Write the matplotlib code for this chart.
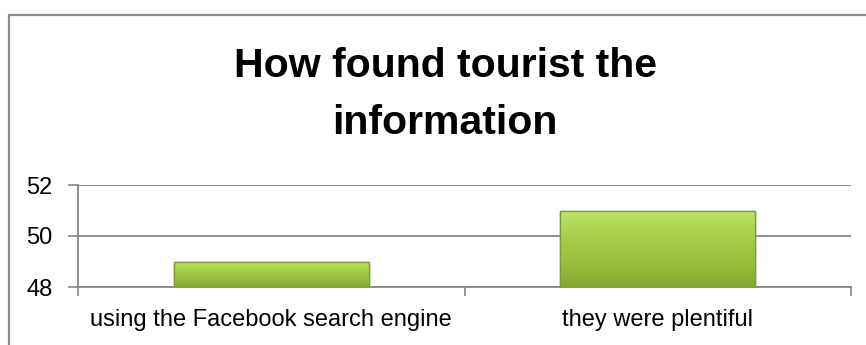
import numpy as np
import matplotlib
matplotlib.use("Agg")
import matplotlib.pyplot as plt
from matplotlib.patches import Rectangle
from matplotlib.colors import LinearSegmentedColormap

# ---- datos ----
categorias = ["using the Facebook search engine", "they were plentiful"]
valores = [49, 51]
yticks = [48, 50, 52]
titulo = ["How found tourist the", "information"]

GRIS = "#868686"
VERDE_EDGE = "#7e9c35"
grad = LinearSegmentedColormap.from_list("verde", ["#c0e46a", "#a6d048", "#98c23c", "#84a932"])

plt.rcParams["font.family"] = ["Liberation Sans", "DejaVu Sans"]

fig = plt.figure(figsize=(8.66, 3.45), dpi=100)
W, H = 866, 345

# borde del área del gráfico (solo se ven el lado izquierdo y el superior)
fig.patches.append(Rectangle((8.5 / W, -0.1), 2, 1.1 - 14.5 / H, transform=fig.transFigure,
                             fill=False, edgecolor="#8c8c8c", lw=1.6))

ax = fig.add_axes([78 / W, (H - 287) / H, (851 - 78) / W, (287 - 185) / H])

x = np.arange(len(categorias))
bars = ax.bar(x, valores, width=0.505, bottom=0, color="#a4cb4c",
              edgecolor=VERDE_EDGE, linewidth=1.0, zorder=3)

# degradado dentro de cada barra
g = np.linspace(0, 1, 64).reshape(-1, 1)
for b in bars:
    x0, w = b.get_x(), b.get_width()
    im = ax.imshow(g, cmap=grad, aspect="auto", zorder=3.5,
                   extent=[x0, x0 + w, 48, b.get_height()], origin="upper")
    im.set_clip_path(b)
    ax.add_patch(Rectangle((x0, 48), w, b.get_height() - 48, fill=False,
                           edgecolor=VERDE_EDGE, lw=1.0, zorder=4))

ax.set_xlim(-0.5, len(categorias) - 0.5)
ax.set_ylim(yticks[0], yticks[-1])
ax.set_yticks(yticks)
ax.set_yticklabels([str(v) for v in yticks], fontsize=17, color="#000000")
ax.set_xticks(x)
ax.set_xticklabels(categorias, fontsize=17, color="#000000")
ax.set_xticks(np.arange(-0.5, len(categorias)), minor=True)
ax.tick_params(axis="x", which="major", length=0, pad=16)
ax.tick_params(axis="x", which="minor", length=6.5, width=1.2, color=GRIS, direction="out")
ax.tick_params(axis="y", length=7.2, width=1.2, color=GRIS, pad=11)
ax.grid(axis="y", color=GRIS, lw=1.3, zorder=1)
ax.set_axisbelow(True)
for sp in ["top", "right"]:
    ax.spines[sp].set_visible(False)
for sp in ["left", "bottom"]:
    ax.spines[sp].set_color(GRIS)
    ax.spines[sp].set_linewidth(1.3)
ax.patch.set_alpha(0)

fig.text(445 / W, 1 - 77 / H, titulo[0], ha="center", va="baseline",
         fontsize=29.5, fontweight="bold")
fig.text(445 / W, 1 - 134 / H, titulo[1], ha="center", va="baseline",
         fontsize=29.5, fontweight="bold")

fig.savefig("out.png", dpi=100)
